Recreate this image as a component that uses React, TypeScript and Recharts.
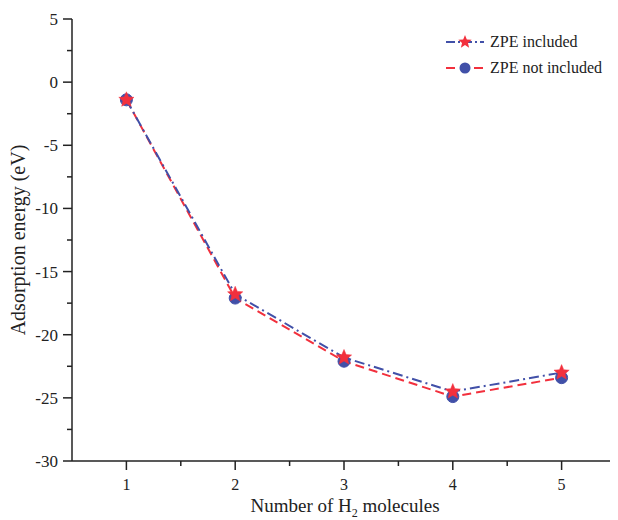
import { LineChart, Line, XAxis, YAxis } from "recharts";

const molecules = [1, 2, 3, 4, 5];
const zpeIncluded = [-1.4, -16.8, -21.8, -24.5, -23.0];
const zpeNotIncluded = [-1.4, -17.1, -22.1, -24.9, -23.4];

const xTicks = [1, 1.5, 2, 2.5, 3, 3.5, 4, 4.5, 5];
const yTicks = [5, 2.5, 0, -2.5, -5, -7.5, -10, -12.5, -15, -17.5, -20, -22.5, -25, -27.5, -30];

const BLUE = "#4150a8";
const RED = "#f2303d";
const FONT = "'Liberation Serif', 'Times New Roman', serif";

const data = molecules.map((m, i) => ({
  n: m,
  inc: zpeIncluded[i],
  notInc: zpeNotIncluded[i],
}));

const starPath = (cx: number, cy: number, R: number, r: number) => {
  let d = "";
  for (let k = 0; k < 10; k++) {
    const rad = k % 2 === 0 ? R : r;
    const a = -Math.PI / 2 + (k * Math.PI) / 5;
    d += (k === 0 ? "M" : "L") + (cx + rad * Math.cos(a)).toFixed(2) + "," + (cy + rad * Math.sin(a)).toFixed(2);
  }
  return d + "Z";
};

const StarDot = (props: any) => {
  const { cx, cy } = props;
  if (cx == null || cy == null) return null;
  return <path d={starPath(cx, cy, 8, 3.6)} fill={RED} stroke={RED} strokeWidth={0.5} />;
};

const CircleDot = (props: any) => {
  const { cx, cy } = props;
  if (cx == null || cy == null) return null;
  return <circle cx={cx} cy={cy} r={6} fill={BLUE} stroke={BLUE} />;
};

const XTick = (props: any) => {
  const { x, y, payload } = props;
  const major = Number.isInteger(payload.value);
  return (
    <g>
      <line x1={x} x2={x} y1={y} y2={y + (major ? 9 : 5)} stroke="#222" strokeWidth={1.5} />
      {major && (
        <text x={x} y={y + 29} textAnchor="middle" fontFamily={FONT} fontSize={16} fill="#222">
          {payload.value}
        </text>
      )}
    </g>
  );
};

const YTick = (props: any) => {
  const { x, y, payload } = props;
  const major = payload.value % 5 === 0;
  return (
    <g>
      <line x1={x} x2={x - (major ? 9 : 5)} y1={y} y2={y} stroke="#222" strokeWidth={1.5} />
      {major && (
        <text x={x - 14} y={y + 6} textAnchor="end" fontFamily={FONT} fontSize={17} fill="#222">
          {payload.value}
        </text>
      )}
    </g>
  );
};

const LegendBox = () => (
  <div style={{ position: "absolute", left: 446, top: 29, fontFamily: FONT, fontSize: 16, color: "#222" }}>
    <div style={{ display: "flex", alignItems: "center", height: 26 }}>
      <svg width={38} height={16}>
        <line x1={0} x2={38} y1={8} y2={8} stroke={BLUE} strokeWidth={2} strokeDasharray="9 3 2 3" />
        <path d={starPath(19, 8, 7, 3.1)} fill={RED} />
      </svg>
      <span style={{ marginLeft: 6 }}>ZPE included</span>
    </div>
    <div style={{ display: "flex", alignItems: "center", height: 26 }}>
      <svg width={38} height={16}>
        <line x1={0} x2={38} y1={8} y2={8} stroke={RED} strokeWidth={2} strokeDasharray="9 5" />
        <circle cx={19} cy={8} r={5.5} fill={BLUE} />
      </svg>
      <span style={{ marginLeft: 6 }}>ZPE not included</span>
    </div>
  </div>
);

export default function App() {
  return (
    <div style={{ margin: -8, width: 618, height: 520, background: "#fff" }}>
      <LineChart width={618} height={520} data={data} margin={{ top: 19, right: 2, left: 0, bottom: 0 }}>
        <XAxis
          dataKey="n"
          type="number"
          domain={[0.5, 5.5]}
          ticks={xTicks}
          tick={<XTick />}
          tickSize={0}
          tickMargin={0}
          tickLine={false}
          height={59}
          axisLine={{ stroke: "#222", strokeWidth: 1.5 }}
          interval={0}
        />
        <YAxis
          type="number"
          domain={[-30, 5]}
          ticks={yTicks}
          tick={<YTick />}
          tickSize={0}
          tickMargin={0}
          tickLine={false}
          width={72}
          axisLine={{ stroke: "#222", strokeWidth: 1.5 }}
          interval={0}
        />
        <Line
          dataKey="notInc"
          stroke={RED}
          strokeWidth={2}
          strokeDasharray="9 5"
          dot={<CircleDot />}
          activeDot={false}
          isAnimationActive={false}
        />
        <Line
          dataKey="inc"
          stroke={BLUE}
          strokeWidth={2}
          strokeDasharray="10 4 2 4"
          dot={<StarDot />}
          activeDot={false}
          isAnimationActive={false}
        />
      </LineChart>
      <LegendBox />
      <svg width={618} height={520} style={{ position: "absolute", left: 0, top: 0, pointerEvents: "none" }}>
        <text
          transform="translate(25,240) rotate(-90)"
          textAnchor="middle"
          fontFamily={FONT}
          fontSize={20}
          fill="#222"
        >
          Adsorption energy (eV)
        </text>
        <text x={345} y={512} textAnchor="middle" fontFamily={FONT} fontSize={19} fill="#222">
          Number of H<tspan fontSize={12} dy={5}>2</tspan>
          <tspan dy={-5}> molecules</tspan>
        </text>
      </svg>
    </div>
  );
}
